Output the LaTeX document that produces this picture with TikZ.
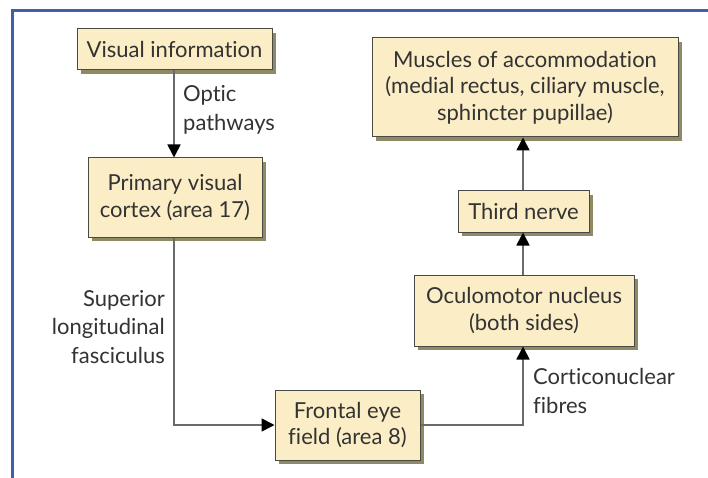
\documentclass[tikz,border=0pt]{standalone}
\usepackage{fontspec}
\setmainfont{Lato}[Ligatures={NoCommon}]
\usetikzlibrary{arrows.meta,shadows}
\definecolor{boxfill}{HTML}{FBEDC6}
\definecolor{boxdraw}{HTML}{4A4A44}
\definecolor{shadowc}{HTML}{8F8A66}
\definecolor{txt}{HTML}{333333}
\definecolor{linec}{HTML}{6A6A6A}
\definecolor{frame}{HTML}{3F5FA8}
\tikzset{
  box/.style={draw=boxdraw, line width=1pt, fill=boxfill, text=txt, align=center,
    inner sep=0pt, font=\fontsize{22}{26.5}\selectfont,
    drop shadow={shadow xshift=4pt, shadow yshift=-4pt, fill=shadowc, opacity=1}},
  conn/.style={draw=linec, line width=1.6pt, -{Triangle[length=13pt,width=13pt,color=black]}},
  lab/.style={text=txt, font=\fontsize{22}{28.5}\selectfont, inner sep=0pt}
}
\begin{document}
\begin{tikzpicture}[x=1pt,y=-1pt]
\useasboundingbox (0,0) rectangle (708,478);
\fill[white] (0,0) rectangle (708,478);
\draw[frame, line width=3pt] (12,478) -- (12,11) -- (708,11);
\node[box, minimum width=195pt, minimum height=41pt] (vis) at (174.5,49.5) {Visual information};
\node[box, minimum width=174pt, minimum height=79pt] (pvc) at (175,197.5) {Primary visual\\cortex (area 17)};
\node[box, minimum width=306pt, minimum height=99pt] (mus) at (525,87.5) {Muscles of accommodation\\(medial rectus, ciliary muscle,\\sphincter pupillae)};
\node[box, minimum width=131pt, minimum height=41pt] (third) at (523.5,211.5) {Third nerve};
\node[box, minimum width=220pt, minimum height=71pt] (ocu) at (524,310.5) {Oculomotor nucleus\\(both sides)};
\node[box, minimum width=145pt, minimum height=70pt] (fef) at (347.5,425) {Frontal eye\\field (area 8)};
\coordinate (c1) at (174,425);
\coordinate (c2) at (523,425);
\draw[conn] (vis.south -| c1) -- (pvc.north -| c1);
\draw[conn] (pvc.south -| c1) -- (c1) -- (fef.west);
\draw[conn] (fef.east) -- (c2) -- (ocu.south -| c2);
\draw[conn] (ocu.north -| c2) -- (third.south -| c2);
\draw[conn] (third.north -| c2) -- (mus.south -| c2);
\node[lab, anchor=west, align=left] (l1) at (183,110) {Optic\\pathways};
\node[lab, anchor=east, align=right] (l2) at (165,327) {Superior\\longitudinal\\fasciculus};
\node[lab, anchor=west, align=left] (l3) at (533,391) {Corticonuclear\\fibres};
\end{tikzpicture}
\end{document}
